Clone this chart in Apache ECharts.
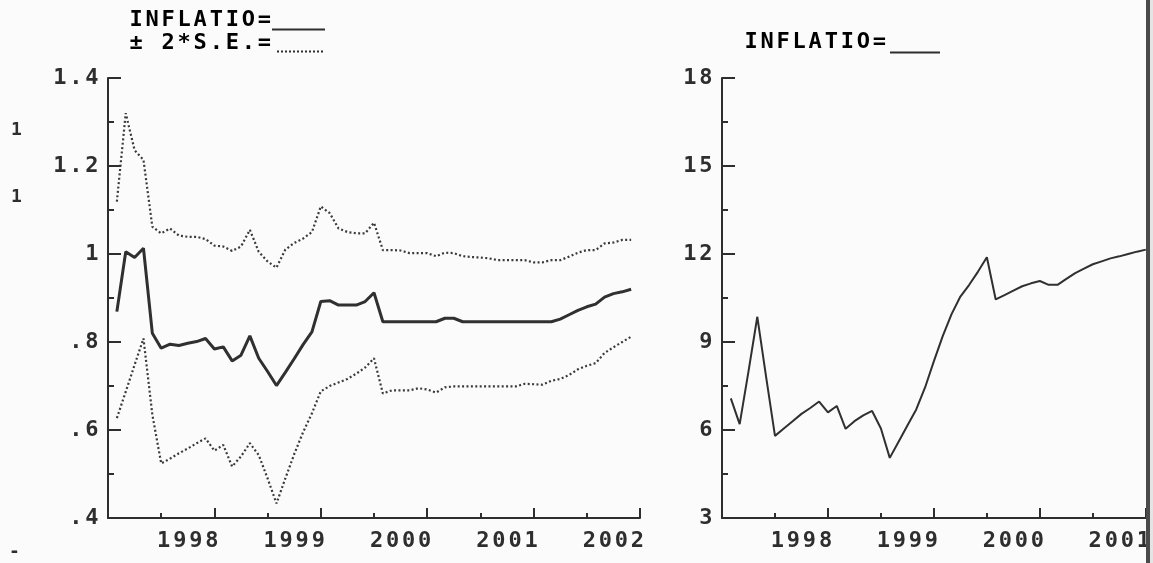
<!DOCTYPE html>
<html>
<head>
<meta charset="utf-8">
<script src="https://cdn.jsdelivr.net/npm/echarts@6/dist/echarts.min.js"></script>
<style>
html,body{margin:0;padding:0;background:#fbfbfb;}
#chart{width:1153px;height:563px;}
</style>
</head>
<body>
<div id="chart"></div>
<script>
// ---- data (monthly observations, index 1 = first observation) ----
const coefInflatio = [0.869,1.005,0.992,1.013,0.820,0.786,0.795,0.792,0.797,0.801,
  0.808,0.784,0.789,0.757,0.770,0.814,0.763,0.733,0.701,0.731,
  0.762,0.794,0.823,0.892,0.894,0.884,0.884,0.884,0.892,0.912,
  0.846,0.846,0.846,0.846,0.846,0.846,0.846,0.854,0.854,0.846,
  0.846,0.846,0.846,0.846,0.846,0.846,0.846,0.846,0.846,0.846,
  0.852,0.862,0.872,0.880,0.886,0.902,0.910,0.914,0.920];
const upperBand = [1.119,1.320,1.236,1.214,1.062,1.047,1.058,1.042,1.039,1.039,
  1.034,1.019,1.017,1.007,1.017,1.055,1.005,0.983,0.969,1.010,
  1.025,1.035,1.050,1.108,1.093,1.058,1.050,1.047,1.047,1.071,
  1.009,1.009,1.008,1.002,1.002,1.002,0.995,1.003,1.002,0.995,
  0.993,0.992,0.990,0.986,0.986,0.986,0.986,0.981,0.981,0.986,
  0.986,0.994,1.003,1.009,1.009,1.024,1.026,1.032,1.032];
const lowerBand = [0.627,0.687,0.748,0.808,0.635,0.524,0.535,0.547,0.558,0.570,
  0.581,0.553,0.566,0.517,0.540,0.570,0.543,0.490,0.433,0.490,
  0.545,0.595,0.638,0.688,0.700,0.708,0.716,0.728,0.742,0.763,
  0.683,0.690,0.690,0.690,0.695,0.692,0.685,0.697,0.699,0.699,
  0.699,0.699,0.699,0.699,0.699,0.699,0.705,0.704,0.703,0.712,
  0.716,0.725,0.738,0.746,0.752,0.775,0.788,0.800,0.812];
const inflation = [7.08,6.20,8.00,9.86,7.80,5.80,6.05,6.30,6.55,6.75,
  6.97,6.60,6.82,6.04,6.30,6.50,6.65,6.05,5.05,5.60,
  6.15,6.70,7.45,8.35,9.20,9.95,10.55,10.95,11.40,11.89,
  10.45,10.60,10.75,10.90,11.00,11.08,10.95,10.95,11.15,11.35,
  11.50,11.65,11.75,11.85,11.92,12.00,12.08,12.15];

const yearLabels = ['1998','1999','2000','2001','2002'];
const yearLabelPos = [9,21,33,45,57];           // month index where the year label sits
const leftTickLabels = {'0.4':'.4','0.6':'.6','0.8':'.8','1':'1','1.2':'1.2','1.4':'1.4'};
const rightTickLabels = {'3':'3','6':'6','9':'9','12':'12','15':'15','18':'18'};

// ---- style helpers ----
const INK = '#2e2e2e';
const FONT = 'DejaVu Sans Mono';
function sp(s){ return s.split('').map(c => '{c|' + c + '}').join(''); }
const richC = { c: { fontFamily: FONT, fontWeight: 'bold', fontSize: 22, color: INK, padding: [0, 1.4, 0, 1.4] } };

function pairs(arr){ return arr.map((v,i)=>[i+1, v]); }

function xAxisFor(gridIndex, maxM, labelsShown){
  return {
    type: 'value', gridIndex: gridIndex, min: 0, max: maxM, interval: 12,
    axisLine: { show: true, onZero: false, lineStyle: { color: INK, width: 2 } },
    axisTick: { show: true, inside: true, length: 10, lineStyle: { color: INK, width: 2 } },
    minorTick: { show: true, splitNumber: 2, length: 5, lineStyle: { color: INK, width: 2 } },
    splitLine: { show: false },
    axisLabel: {
      show: true, margin: 12, showMinLabel: true, showMaxLabel: true,
      customValues: yearLabelPos.slice(0, labelsShown),
      formatter: v => { const i = yearLabelPos.indexOf(Math.round(v)); return i >= 0 ? sp(yearLabels[i]) : ''; },
      rich: richC
    }
  };
}
function yAxisFor(gridIndex, min, max, interval, map){
  return {
    type: 'value', gridIndex: gridIndex, min: min, max: max, interval: interval,
    axisLine: { show: true, lineStyle: { color: INK, width: 2 } },
    axisTick: { show: true, inside: true, length: 13, lineStyle: { color: INK, width: 2 } },
    minorTick: { show: true, splitNumber: 2, length: 6, lineStyle: { color: INK, width: 2 } },
    splitLine: { show: false },
    axisLabel: {
      margin: 8,
      formatter: v => { const k = String(Math.round(v*10)/10); return sp(map[k] !== undefined ? map[k] : k); },
      rich: richC
    }
  };
}

const PX_PER_MONTH = 532 / 60;
const rightMax = 48.5;   // the scan cuts the right panel off here

const chart = echarts.init(document.getElementById('chart'), null, { renderer: 'canvas' });
const option = {
  backgroundColor: '#fbfbfb',
  animation: false,
  grid: [
    { left: 108, top: 78, width: 532, height: 440 },
    { left: 722, top: 78, width: rightMax * PX_PER_MONTH, height: 440 }
  ],
  xAxis: [ xAxisFor(0, 60, 5), xAxisFor(1, rightMax, 4) ],
  yAxis: [ yAxisFor(0, 0.4, 1.4, 0.2, leftTickLabels), yAxisFor(1, 3, 18, 3, rightTickLabels) ],
  series: [
    { type: 'line', xAxisIndex: 0, yAxisIndex: 0, data: pairs(coefInflatio), showSymbol: false,
      lineStyle: { color: '#303030', width: 3 } },
    { type: 'line', xAxisIndex: 0, yAxisIndex: 0, data: pairs(upperBand), showSymbol: false,
      lineStyle: { color: '#3a3a3a', width: 2.2, type: [2, 2.4] } },
    { type: 'line', xAxisIndex: 0, yAxisIndex: 0, data: pairs(lowerBand), showSymbol: false,
      lineStyle: { color: '#3a3a3a', width: 2.2, type: [2, 2.4] } },
    { type: 'line', xAxisIndex: 1, yAxisIndex: 1, data: pairs(inflation), showSymbol: false,
      lineStyle: { color: '#303030', width: 2 } }
  ],
  graphic: [
    { type: 'text', x: 128, y: 20, style: { text: sp('INFLATIO='), rich: richC, verticalAlign: 'middle' } },
    { type: 'line', shape: { x1: 272, y1: 29.5, x2: 325, y2: 29.5 }, style: { stroke: INK, lineWidth: 2 } },
    { type: 'text', x: 128, y: 43, style: { text: sp('± 2*S.E.='), rich: richC, verticalAlign: 'middle' } },
    { type: 'line', shape: { x1: 277, y1: 51.5, x2: 325, y2: 51.5 }, style: { stroke: INK, lineWidth: 2, lineDash: [2, 2] } },
    { type: 'text', x: 743, y: 42, style: { text: sp('INFLATIO='), rich: richC, verticalAlign: 'middle' } },
    { type: 'line', shape: { x1: 890, y1: 52.5, x2: 940, y2: 52.5 }, style: { stroke: INK, lineWidth: 2 } },
    { type: 'text', x: 11, y: 130, style: { text: '1', fontFamily: FONT, fontWeight: 'bold', fontSize: 18, fill: INK, verticalAlign: 'middle' } },
    { type: 'text', x: 11, y: 197, style: { text: '1', fontFamily: FONT, fontWeight: 'bold', fontSize: 18, fill: INK, verticalAlign: 'middle' } },
    { type: 'text', x: 9, y: 552, style: { text: '-', fontFamily: FONT, fontWeight: 'bold', fontSize: 18, fill: INK, verticalAlign: 'middle' } },
    { type: 'rect', z: 100, shape: { x: 1146, y: 0, width: 4, height: 563 }, style: { fill: '#4a4a4a' } },
    { type: 'rect', z: 100, shape: { x: 1150, y: 0, width: 3, height: 563 }, style: { fill: '#e4e4e4' } }
  ]
};
chart.setOption(option);
</script>
</body>
</html>
